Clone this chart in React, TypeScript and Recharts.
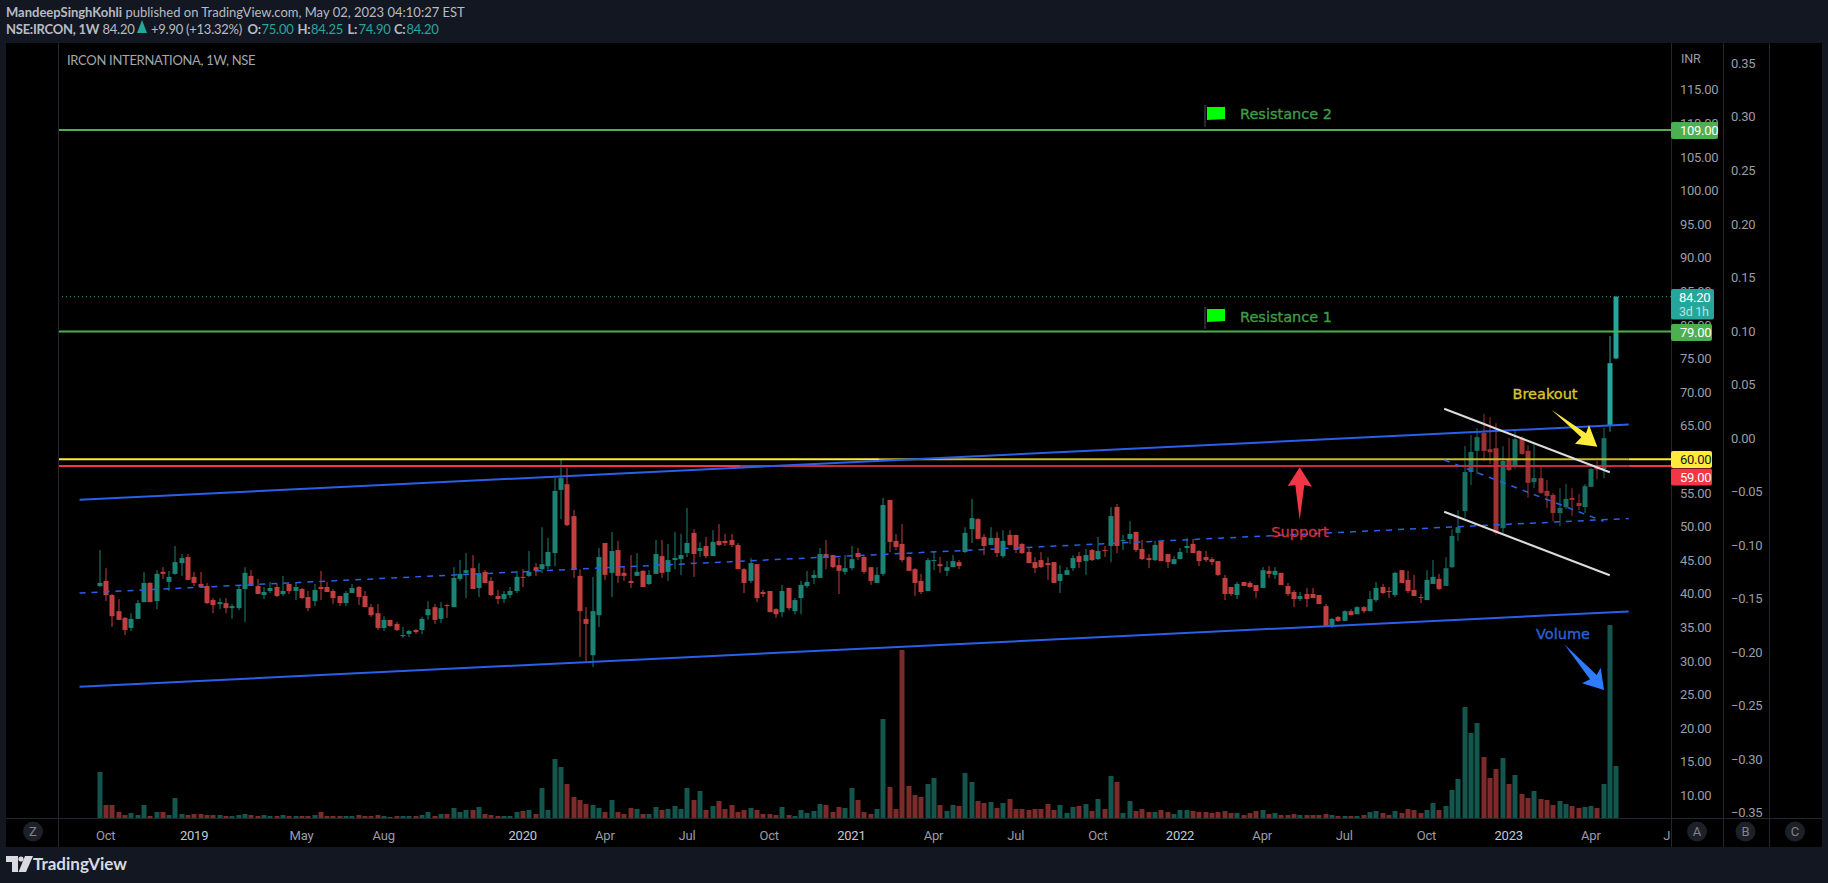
import { ComposedChart, Bar, XAxis, YAxis, ReferenceLine } from 'recharts';

const opens = [
  41.15,41.9,39.8,37.4,36.4,34.9,36.25,38.75,41.6,38.9,
  43.25,41.75,42.95,44.55,45.45,42.5,41.45,41.15,39.05,38.45,
  38.6,37.85,37.85,40.7,42.65,41.15,39.8,40.4,41.0,39.95,
  41.45,40.4,40.7,39.5,38.9,41.0,41.0,40.4,39.65,38.6,
  40.1,41.0,39.65,38.0,37.1,34.9,36.1,35.5,33.7,34.0,
  34.6,34.6,36.8,38.0,36.25,38.3,38.0,42.2,43.1,43.8,
  40.85,43.25,41.9,39.65,39.2,39.8,40.4,42.5,42.65,43.95,
  43.65,44.1,46.05,55.45,56.3,51.55,42.65,36.25,30.85,36.8,
  47.55,43.1,46.5,43.1,41.9,42.65,43.4,41.45,42.95,45.6,
  43.25,45.0,45.15,46.05,49.05,46.35,47.1,45.6,47.85,47.85,
  48.0,47.25,43.65,41.9,44.4,40.25,40.4,37.7,37.25,40.85,
  37.4,39.35,41.15,42.35,42.35,45.9,45.75,44.25,43.25,43.8,
  46.05,45.45,43.95,41.6,42.95,53.95,47.85,47.4,45.45,43.65,
  41.9,40.4,44.85,44.4,43.4,43.95,44.7,46.2,49.6,51.1,
  48.45,47.25,48.3,45.6,48.75,48.75,47.4,46.2,44.7,45.0,
  44.55,44.7,41.9,42.8,43.8,45.6,44.85,46.5,45.15,46.5,
  47.1,52.9,47.85,48.15,49.2,46.65,45.3,45.0,47.85,45.9,
  44.4,45.15,46.8,47.4,46.35,45.45,45.15,44.85,42.35,41.0,
  39.8,41.75,41.6,41.3,40.85,43.4,42.8,43.1,41.15,40.25,
  39.2,39.95,39.95,39.8,38.15,35.2,36.55,35.95,37.4,36.95,
  38.0,37.4,39.05,41.0,40.4,39.8,43.5,42.05,40.55,39.5,
  39.05,41.45,42.2,41.15,43.95,49.05,52.3,58.1,61.25,63.9,
  61.5,61.65,49.75,59.9,59.15,63.15,61.25,56.6,57.2,55.3,
  54.7,52.0,52.9,54.25,53.5,52.9,55.9,58.9,58.55,65.05,
  75.0,
];
const highs = [
  46.5,43.8,39.95,39.2,36.55,37.1,39.05,43.25,41.75,43.5,
  43.95,43.4,47.1,45.9,45.9,43.25,43.25,41.6,39.35,39.35,
  39.35,38.45,41.3,43.95,43.5,42.2,41.0,41.75,41.45,42.65,
  41.45,41.6,40.85,40.4,41.45,43.4,41.75,40.7,39.65,40.4,
  41.45,41.15,40.4,38.45,38.45,36.65,36.1,35.8,35.05,34.6,
  34.75,36.55,38.9,38.45,38.75,38.45,43.95,45.0,46.05,45.75,
  44.55,43.5,42.5,40.55,40.4,41.0,43.4,43.65,46.35,44.55,
  49.9,48.3,57.35,59.9,58.7,52.45,43.65,38.0,42.5,46.8,
  47.55,49.2,47.85,43.95,45.75,46.05,43.5,43.5,48.0,48.0,
  47.4,49.2,48.9,52.75,49.6,47.7,48.45,49.45,50.35,48.9,
  48.9,47.55,43.8,45.3,44.4,40.55,40.4,37.85,41.3,40.85,
  39.35,41.9,43.4,43.5,46.8,48.0,45.75,45.3,45.75,47.1,
  46.8,45.6,43.95,43.95,54.25,53.95,48.9,50.35,45.6,43.8,
  42.95,45.3,46.2,45.45,44.85,45.75,45.0,49.9,54.1,51.25,
  48.9,49.9,49.2,49.45,49.45,48.75,47.55,46.8,45.45,46.2,
  45.45,44.7,44.25,43.95,45.75,46.2,46.65,46.65,48.45,47.1,
  52.9,53.35,48.75,50.8,49.2,48.0,45.9,47.85,47.85,45.9,
  45.6,46.8,48.3,48.15,46.5,46.35,45.45,44.85,42.8,41.0,
  41.75,41.75,41.9,41.3,43.95,44.1,43.95,43.1,41.6,40.55,
  40.25,40.85,40.85,39.8,38.45,36.4,36.65,37.55,37.7,38.15,
  38.15,40.4,41.75,41.45,41.0,43.25,43.5,43.4,42.8,39.95,
  43.5,45.0,42.95,45.45,49.6,52.45,62.0,63.6,64.65,66.75,
  66.3,65.4,61.95,63.15,64.2,63.45,62.1,62.25,58.85,56.9,
  55.0,55.7,56.3,55.7,54.85,56.3,58.7,59.75,64.65,78.35,
  84.25,
];
const lows = [
  41.0,38.9,35.05,36.1,33.85,34.45,36.25,38.75,38.75,37.7,
  42.2,40.4,42.8,42.65,42.05,41.15,41.0,38.45,37.1,37.7,
  37.1,36.25,37.55,35.8,41.15,39.95,39.2,40.1,39.5,39.65,
  39.95,39.05,39.2,37.4,38.15,39.05,40.25,38.45,38.15,38.15,
  40.1,38.3,38.0,36.55,34.6,34.45,35.05,34.45,33.4,33.55,
  34.0,34.0,36.1,35.5,35.65,36.4,38.0,41.9,39.35,40.7,
  39.5,41.6,39.65,38.45,38.6,39.35,40.1,41.0,42.5,42.65,
  43.1,43.65,44.1,51.1,50.05,42.35,30.6,30.0,29.1,35.05,
  42.05,39.5,41.6,41.9,40.85,42.65,41.0,41.3,42.95,42.35,
  41.9,43.65,42.8,45.45,42.5,45.45,45.3,45.6,47.1,47.1,
  46.95,43.65,40.1,41.6,38.75,39.5,37.25,36.4,36.55,37.55,
  36.95,36.95,40.85,41.45,42.35,43.65,43.8,39.95,42.8,43.5,
  45.0,42.95,41.3,41.6,42.65,46.2,46.5,44.7,43.4,39.65,
  39.95,40.4,43.5,43.1,42.65,43.95,43.65,46.05,47.55,48.15,
  45.75,47.25,45.45,45.3,47.25,46.05,45.9,44.55,43.1,43.8,
  42.05,41.6,40.1,42.8,43.4,43.8,42.8,44.85,45.0,45.45,
  44.7,46.05,46.5,47.4,46.2,45.0,43.8,44.85,44.85,43.8,
  44.4,45.15,46.05,46.05,44.1,44.7,44.25,42.65,39.05,39.65,
  39.2,41.15,40.85,39.35,40.85,42.35,42.2,41.3,39.65,38.0,
  38.9,38.0,39.35,38.45,35.2,34.9,35.8,35.95,36.8,36.95,
  37.1,37.4,38.75,39.95,39.35,39.5,41.6,40.1,39.65,38.6,
  39.05,41.45,40.55,41.15,43.8,47.85,51.25,56.15,57.8,59.75,
  59.3,48.75,49.05,58.25,58.55,60.65,54.25,55.7,54.85,52.75,
  50.8,50.05,52.6,51.55,52.45,52.0,55.9,57.05,57.2,64.1,
  74.9,
];
const closes = [
  41.6,39.8,36.65,36.1,34.6,36.25,38.6,41.6,38.75,42.95,
  42.95,42.5,44.7,45.3,42.05,41.6,41.0,38.6,38.3,38.75,
  37.85,38.15,40.7,43.1,41.15,39.95,40.25,40.85,39.65,40.4,
  40.4,41.0,39.35,37.85,40.55,40.7,40.25,39.35,38.6,40.1,
  40.85,39.5,38.0,36.8,34.9,36.1,35.2,34.6,33.85,34.45,
  34.3,36.25,37.7,36.1,37.85,38.15,42.35,42.95,43.5,40.7,
  42.95,41.6,39.8,39.2,39.95,40.4,42.5,42.35,43.25,43.4,
  44.4,46.2,55.3,57.2,50.2,43.65,37.4,35.5,37.4,45.45,
  42.8,46.35,42.65,42.65,41.6,43.25,41.0,42.8,45.9,43.1,
  45.0,45.3,45.75,47.55,45.9,46.8,45.6,47.7,47.25,47.55,
  47.25,43.65,41.6,44.55,39.35,39.95,37.25,36.95,40.4,37.85,
  39.05,41.3,41.75,42.8,45.9,45.3,43.95,43.4,43.8,45.15,
  45.45,43.25,41.9,42.8,53.2,47.7,46.95,45.0,43.4,41.6,
  40.25,45.0,45.0,44.1,43.95,44.85,44.1,49.05,51.25,48.15,
  47.1,48.3,46.05,47.85,47.25,46.5,46.05,44.55,43.8,43.95,
  44.25,41.6,42.95,43.5,45.3,44.7,45.75,45.0,46.35,46.35,
  51.55,47.1,48.0,48.9,46.5,45.15,45.0,47.25,44.85,44.7,
  45.15,46.2,47.1,46.05,44.85,45.0,44.7,42.8,39.95,39.95,
  41.45,41.15,41.0,40.4,43.5,42.95,43.4,41.3,39.95,39.2,
  39.65,39.2,39.35,38.45,35.2,36.25,35.95,37.4,36.8,38.0,
  37.4,39.2,40.85,40.1,40.25,43.1,41.6,40.4,39.65,39.35,
  42.05,42.5,40.7,43.8,48.6,49.9,58.1,61.1,63.3,61.25,
  61.05,49.05,59.75,58.4,63.0,60.8,56.5,57.2,55.0,54.55,
  52.0,52.75,54.1,53.95,53.05,56.0,58.55,58.5,63.15,74.3,
  84.2,
];
const volumes = [
  13.8,3.9,3.9,1.8,0.9,1.5,0.9,3.9,0.6,1.8,
  1.8,0.9,6.0,1.2,0.9,1.2,1.2,0.9,0.9,0.9,
  0.6,0.6,0.9,1.2,0.9,0.6,0.9,0.6,0.6,0.9,
  0.6,0.6,0.6,0.6,0.9,1.8,0.6,0.6,0.6,0.6,
  0.6,0.9,0.6,0.6,0.9,0.6,0.3,0.6,0.6,0.6,
  0.6,0.9,1.8,0.6,1.2,1.2,3.0,1.8,2.4,2.4,
  3.3,1.2,0.9,0.6,0.6,0.6,1.8,2.1,2.4,1.2,
  9.0,2.4,17.7,15.3,10.2,6.3,5.4,4.2,3.9,3.0,
  1.8,5.4,1.8,1.2,3.0,2.7,1.2,1.2,3.3,2.4,
  2.7,3.6,2.7,9.0,5.4,8.1,2.4,3.6,5.1,2.7,
  3.9,1.8,2.4,3.0,2.4,1.2,1.2,0.9,3.3,0.9,
  0.6,2.4,1.5,2.1,4.2,3.9,1.8,3.3,3.0,9.0,
  5.4,1.8,1.2,2.7,29.7,9.3,2.7,50.4,9.6,6.9,
  6.3,10.2,12.0,3.9,2.1,3.9,3.6,13.5,10.8,5.1,
  4.5,4.8,3.0,4.5,5.7,2.7,2.7,2.4,2.7,2.7,
  4.2,2.4,3.9,1.5,3.3,3.6,4.2,2.1,5.7,2.7,
  12.6,10.8,1.5,5.1,2.1,2.7,1.8,1.8,2.4,1.8,
  1.2,2.4,2.4,2.1,1.8,1.8,1.5,1.8,2.1,1.5,
  1.5,0.9,1.5,2.1,2.4,1.2,1.5,0.9,0.9,1.2,
  0.9,0.9,0.9,0.9,1.2,0.9,0.6,0.6,0.6,0.6,
  0.9,1.8,2.1,1.5,0.9,2.1,1.5,2.7,2.4,1.5,
  2.4,4.5,2.4,3.6,8.4,11.7,33.3,25.5,28.5,18.3,
  12.0,14.7,18.0,10.2,12.9,7.2,6.0,8.1,5.7,5.4,
  3.9,5.1,4.2,3.6,3.0,3.3,3.6,3.0,10.2,57.9,
  15.6,
];

// bars are numbered by week, these are the weeks that carry a label
const timeTicks = [1, 15, 32, 45, 67, 80, 93, 106, 119, 132, 145, 158, 171, 184, 197, 210, 223, 236, 248];
const timeLabels = ['Oct', '2019', 'May', 'Aug', '2020', 'Apr', 'Jul', 'Oct', '2021', 'Apr', 'Jul', 'Oct', '2022', 'Apr', 'Jul', 'Oct', '2023', 'Apr', 'J'];
const priceTicks = [10, 15, 20, 25, 30, 35, 40, 45, 50, 55, 60, 65, 70, 75, 80, 85, 90, 95, 100, 105, 110, 115];
const ratioTicks = [-0.35, -0.3, -0.25, -0.2, -0.15, -0.1, -0.05, 0, 0.05, 0.1, 0.15, 0.2, 0.25, 0.3, 0.35];

const rows = opens.map((open, i) => ({
  i,
  open,
  high: highs[i],
  low: lows[i],
  close: closes[i],
  volume: volumes[i],
  range: [lows[i], highs[i]],
}));

const W = 1828;
const H = 883;
const axisFont = 'Roboto, sans-serif';
const uiFont = 'Lato, Roboto, sans-serif';
const noteFont = '"DejaVu Sans", sans-serif';
const axisGrey = '#9a9da6';
const border = '#23262e';

function candleColor(i: number, up: boolean) {
  if (i >= 239) return up ? '#26a69a' : '#ef5350';
  if (i >= 213) return up ? '#1a6f63' : '#9e3333';
  return up ? '#1c8274' : '#c23f3f';
}

function Candle(props: any) {
  const { x, y, width, height, payload } = props;
  const { open, close, high, low, i } = payload;
  const up = close >= open;
  const color = candleColor(i, up);
  const perUnit = height / (high - low);
  const top = y + (high - Math.max(open, close)) * perUnit;
  const bodyH = Math.max(Math.abs(open - close) * perUnit, 1);
  const mid = Math.round(x + width / 2);
  return (
    <g>
      <rect x={mid - 0.5} y={y} width={1} height={height} fill={color} />
      <rect x={mid - 2.5} y={top} width={5} height={bodyH} fill={color} />
    </g>
  );
}

function VolumeBar(props: any) {
  const { x, width, y, height, payload } = props;
  const mid = Math.round(x + width / 2);
  return (
    <rect
      x={mid - 2.5}
      y={y}
      width={5}
      height={height}
      fill={payload.close >= payload.open ? '#14554d' : '#7d2a2a'}
    />
  );
}

function TimeTick(props: any) {
  const { x, y, payload } = props;
  const label = timeLabels[timeTicks.indexOf(payload.value)];
  const isYear = label.length === 4;
  return (
    <text
      x={x}
      y={y + 14}
      textAnchor="middle"
      fontFamily={axisFont}
      fontSize={13}
      letterSpacing={-0.2}
      fill={isYear ? '#c5c8d0' : axisGrey}
    >
      {label}
    </text>
  );
}

function PriceTag({ y, h, w, fill, text, color }: any) {
  return (
    <g>
      <rect x={1671} y={y} width={w} height={h} rx={2} fill={fill} />
      <text x={1680} y={y + h / 2 + 4.5} fontFamily={axisFont} fontSize={13} letterSpacing={-0.3} fill={color}>
        {text}
      </text>
    </g>
  );
}

function Flag({ y }: { y: number }) {
  return (
    <g>
      <rect x={1204.5} y={y - 9} width={1} height={22} fill="#50535e" />
      <polygon points={`1207,${y - 7} 1225,${y - 7} 1225,${y + 5} 1207,${y + 6}`} fill="#00ff00" />
    </g>
  );
}

function Chrome() {
  const circles = [
    { x: 33, t: 'Z' },
    { x: 1697, t: 'A' },
    { x: 1745.5, t: 'B' },
    { x: 1795, t: 'C' },
  ];
  return (
    <svg width={W} height={H} style={{ position: 'absolute', left: 0, top: 0 }}>
      {/* drawings */}
      <Flag y={114} />
      <Flag y={316} />
      <g fontFamily={noteFont} fontSize={14.5} strokeWidth={0.35}>
        <text x={1240} y={119} fill="#3f9c45" stroke="#3f9c45">Resistance 2</text>
        <text x={1240} y={322} fill="#3f9c45" stroke="#3f9c45">Resistance 1</text>
        <text x={1300} y={537} textAnchor="middle" fill="#d32f3f" stroke="#d32f3f">Support</text>
        <text x={1545} y={399} textAnchor="middle" fill="#d8c62c" stroke="#d8c62c">Breakout</text>
        <text x={1563} y={639} textAnchor="middle" fill="#2a62d8" stroke="#2a62d8">Volume</text>
      </g>
      <polygon
        points="1299.7,467.3 1312,486.7 1304.3,485 1299.7,520 1295.3,485 1287.7,486"
        fill="#f23645"
      />
      <polygon
        points="1551.7,410 1586,433.3 1589,425 1597.3,446.7 1575,443.7 1581.3,437.3"
        fill="#ffeb3b"
      />
      <polygon
        points="1564.3,644.3 1596.7,675 1600.7,667.7 1604,690 1582,683.3 1590,679.3"
        fill="#2f7bff"
      />

      {/* axis tags */}
      <PriceTag y={122} h={17} w={47} fill="#4caf50" text="109.00" color="#fff" />
      <rect x={1671} y={289} width={43} height={30.5} rx={2} fill="#26a69a" />
      <text x={1679} y={302} fontFamily={axisFont} fontSize={13} letterSpacing={-0.3} fill="#fff">84.20</text>
      <text x={1679} y={316} fontFamily={axisFont} fontSize={12.5} letterSpacing={-0.3} fill="#b5e3de">3d 1h</text>
      <PriceTag y={324} h={17} w={41} fill="#4caf50" text="79.00" color="#fff" />
      <PriceTag y={451} h={17} w={41} fill="#ffeb3b" text="60.00" color="#131722" />
      <PriceTag y={468.5} h={17} w={41} fill="#f23645" text="59.00" color="#fff" />

      {/* pane labels */}
      <text x={1681} y={63} fontFamily={axisFont} fontSize={12.5} letterSpacing={-0.2} fill={axisGrey}>INR</text>
      <text x={67} y={65} fontFamily={uiFont} fontSize={13} letterSpacing={-0.3} fill="#a3a6af">IRCON INTERNATIONA, 1W, NSE</text>

      {/* pane scale buttons */}
      {circles.map((c) => (
        <g key={c.t}>
          <circle cx={c.x} cy={831.5} r={10} fill="#1d2027" />
          <text x={c.x} y={836} textAnchor="middle" fontFamily={axisFont} fontSize={13} fill="#80838c">{c.t}</text>
        </g>
      ))}

      {/* header */}
      <text x={6} y={17} fontFamily={uiFont} fontSize={13} fill="#b8bbc4">
        <tspan fontWeight={700}>MandeepSinghKohli</tspan>
        <tspan> published on TradingView.com, May 02, 2023 04:10:27 EST</tspan>
      </text>
      <text y={34} fontFamily={uiFont} fontSize={13} letterSpacing={-0.25} fill="#b8bbc4">
        <tspan x={6} fontWeight={700}>NSE:IRCON, 1W</tspan>
        <tspan x={102.5}>84.20</tspan>
        <tspan x={151}>+9.90 (+13.32%)</tspan>
        <tspan x={247.5} fontWeight={700}>O:</tspan>
        <tspan x={261.5} fill="#26a69a">75.00</tspan>
        <tspan x={297.5} fontWeight={700}>H:</tspan>
        <tspan x={311} fill="#26a69a">84.25</tspan>
        <tspan x={347.5} fontWeight={700}>L:</tspan>
        <tspan x={358.5} fill="#26a69a">74.90</tspan>
        <tspan x={394} fontWeight={700}>C:</tspan>
        <tspan x={406.5} fill="#26a69a">84.20</tspan>
      </text>
      <polygon points="137,33 147,33 142,20" fill="#26a69a" />

      {/* logo */}
      <g fill="#d8dae0">
        <path d="M6 856 H18 V872 H12 V862 H6 Z" />
        <circle cx={21} cy={859} r={2.6} />
        <path d="M25 856 H33 L26 872 H18.5 Z" />
      </g>
      <text x={33} y={870} fontFamily={uiFont} fontSize={17} fontWeight={700} fill="#d8dae0">TradingView</text>
    </svg>
  );
}

export default function App() {
  const xDomain: [number, number] = [-6.456, 248.69];
  const upper = [{ x: -3.13, y: 53.99 }, { x: 242, y: 65.16 }];
  const lower = [{ x: -3.13, y: 26.16 }, { x: 242, y: 37.35 }];
  const median = [{ x: -3.13, y: 40.1 }, { x: 242, y: 51.19 }];
  const flagTop = [{ x: 212.8, y: 67.53 }, { x: 239, y: 58.07 }];
  const flagBottom = [{ x: 212.8, y: 52.2 }, { x: 239, y: 42.74 }];
  const flagMid = [{ x: 212.8, y: 59.9 }, { x: 238, y: 50.78 }];

  const seg = (segment: { x: number; y: number }[], stroke: string, width = 2, dash?: string) => (
    <ReferenceLine
      xAxisId="t"
      yAxisId="a-price"
      segment={segment}
      stroke={stroke}
      strokeWidth={width}
      strokeDasharray={dash}
    />
  );
  const tickStyle = { fill: axisGrey, fontSize: 13, fontFamily: axisFont, letterSpacing: -0.3 };

  return (
    <div style={{ position: 'absolute', left: 0, top: 0, width: W, height: H, overflow: 'hidden', background: '#131722' }}>
      <div style={{ position: 'absolute', left: 6, top: 43, width: 1816, height: 804, background: '#000' }} />
      <ComposedChart
        width={W}
        height={H}
        data={rows}
        margin={{ top: 43, right: 59, bottom: 35, left: 58.5 }}
        style={{ position: 'absolute', left: 0, top: 0 }}
      >
        <XAxis
          xAxisId="t"
          dataKey="i"
          type="number"
          domain={xDomain}
          allowDataOverflow
          ticks={timeTicks}
          interval={0}
          height={30}
          tickLine={false}
          axisLine={false}
          tick={<TimeTick />}
        />
        <XAxis xAxisId="v" dataKey="i" type="number" domain={xDomain} allowDataOverflow hide />
        <YAxis
          yAxisId="a-price"
          orientation="right"
          domain={[6.62, 121.95]}
          ticks={priceTicks}
          interval={0}
          width={52}
          tickLine={false}
          axisLine={false}
          tickSize={0}
          tickMargin={9}
          tick={tickStyle}
          tickFormatter={(v: number) => v.toFixed(2)}
        />
        <YAxis
          yAxisId="b-ratio"
          orientation="right"
          domain={[-0.355, 0.369]}
          allowDataOverflow
          ticks={ratioTicks}
          interval={0}
          width={46}
          tickLine={false}
          axisLine={false}
          tickSize={0}
          tickMargin={8}
          tick={tickStyle}
          tickFormatter={(v: number) => v.toFixed(2).replace('-', '\u2212')}
        />
        <YAxis yAxisId="vol" domain={[0, 232.5]} hide />

        <Bar
          xAxisId="v"
          yAxisId="vol"
          dataKey="volume"
          barSize={5}
          isAnimationActive={false}
          shape={<VolumeBar />}
        />
        <Bar
          xAxisId="t"
          yAxisId="a-price"
          dataKey="range"
          barSize={5}
          isAnimationActive={false}
          shape={<Candle />}
        />

        <ReferenceLine xAxisId="t" yAxisId="a-price" y={109} stroke="#4caf50" strokeWidth={2} />
        <ReferenceLine xAxisId="t" yAxisId="a-price" y={79} stroke="#4caf50" strokeWidth={2} />
        <ReferenceLine xAxisId="t" yAxisId="a-price" y={84.2} stroke="#26a69a" strokeWidth={1} strokeDasharray="1 3" />
        {seg([{ x: xDomain[0], y: 60 }, { x: 123.5, y: 60 }], '#ffeb3b')}
        {seg([{ x: 123.5, y: 60 }, { x: 242, y: 60 }], '#c9b92f')}
        {seg([{ x: 242, y: 60 }, { x: xDomain[1], y: 60 }], '#ffeb3b')}
        {seg([{ x: xDomain[0], y: 59 }, { x: 101.4, y: 59 }], '#f23645')}
        {seg([{ x: 101.4, y: 59 }, { x: 242, y: 59 }], '#c22f3b')}
        {seg([{ x: 242, y: 59 }, { x: xDomain[1], y: 59 }], '#f23645')}
        {seg(upper, '#2a5fe8')}
        {seg(lower, '#2a5fe8')}
        {seg(median, '#2a5fe8', 1.5, '6 6')}
        {seg(flagMid, '#2a5fe8', 1.5, '6 6')}
        {seg(flagTop, '#dcdcdc')}
        {seg(flagBottom, '#dcdcdc')}
      </ComposedChart>

      {/* pane separators */}
      <div style={{ position: 'absolute', left: 6, top: 818, width: 1816, height: 1, background: border }} />
      {[58, 1671, 1723, 1769].map((x) => (
        <div key={x} style={{ position: 'absolute', left: x, top: 43, width: 1, height: 804, background: border }} />
      ))}
      <Chrome />
    </div>
  );
}
